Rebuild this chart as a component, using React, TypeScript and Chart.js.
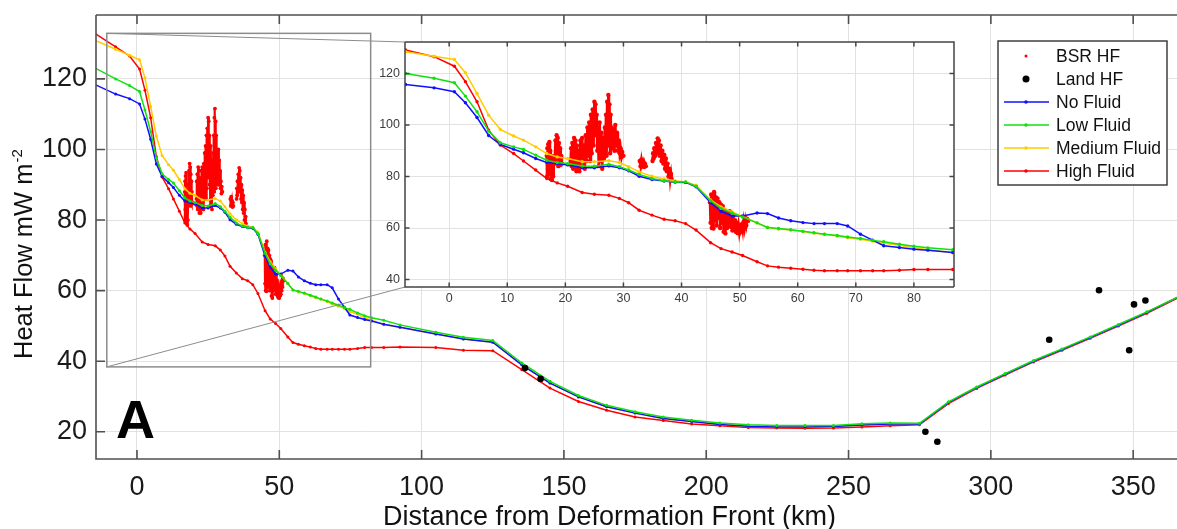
import React, { useEffect, useRef } from "react";
import { Chart, registerables } from "chart.js";

Chart.register(...registerables);

const FONT = "'Liberation Sans', Arial, Helvetica, sans-serif";

// ---- Model curves (distance in km, heat flow in mW m-2) ----
const modelDist = [
  -15, -7.5, -2.6, 0.9, 2.8, 4.8, 6.8, 8.8, 11.1, 12.8, 14.9, 16.8, 18.6, 20.4, 22.9, 25.0, 27.5, 29.3, 30.9,
  32.7, 34.9, 37.0, 38.9, 40.7, 42.5, 45.0, 46.8, 48.7, 50.5, 53.0, 54.8, 56.7, 58.8, 60.9, 62.8, 64.6, 66.8,
  68.6, 70.8, 72.9, 74.8, 77.5, 80.0, 82.4, 86.7, 92.4, 105, 114.7, 125, 135.2, 145.1, 155.1, 165, 175, 184.9,
  194.9, 204.8, 214.8, 224.8, 234.7, 244.7, 254.7, 264.6, 274.9, 285.1, 295, 305, 315, 325, 334.9, 344.8,
  354.8, 366,
];

const noFluidHF = [
  118.5, 115.7, 114.4, 112.9, 108.6, 102.9, 95.9, 92.4, 90.6, 89.2, 87.0, 85.4, 85.0, 84.5, 83.4, 83.4, 84.1,
  83.4, 82.2, 80.1, 78.8, 78.2, 77.8, 77.7, 76.0, 69.8, 66.5, 64.7, 64.7, 65.8, 65.6, 63.9, 62.8, 62.1, 61.7,
  61.7, 61.7, 60.8, 57.6, 55.3, 53.1, 52.4, 51.8, 51.4, 50.5, 49.6, 47.7, 46.3, 45.4, 39.0, 33.8, 29.9, 27.1,
  25.3, 23.8, 22.9, 22.1, 21.6, 21.4, 21.4, 21.5, 21.9, 22.2, 22.2, 28.3, 32.5, 36.3, 40.0, 43.3, 46.7, 50.2,
  53.8, 58.3,
];

const lowFluidHF = [
  123.2, 120.0, 118.1, 116.4, 111.2, 105.1, 97.6, 93.1, 91.5, 90.5, 88.3, 86.3, 85.4, 85.0, 84.1, 84.0, 84.7,
  83.8, 82.5, 80.8, 79.2, 78.3, 77.9, 77.9, 76.2, 70.6, 67.6, 65.8, 64.3, 62.0, 60.2, 59.8, 59.3, 58.7, 58.2,
  57.6, 57.1, 56.5, 55.9, 55.2, 54.7, 53.7, 52.9, 52.3, 51.6, 50.3, 48.2, 46.8, 45.9, 39.5, 34.3, 30.3, 27.5,
  25.7, 24.2, 23.3, 22.5, 22.0, 21.8, 21.8, 21.8, 22.3, 22.5, 22.4, 28.5, 32.7, 36.5, 40.2, 43.5, 46.9, 50.4,
  54.0, 58.3,
];

const mediumFluidHF = [
  131.0, 128.4, 126.7, 125.4, 120.3, 112.2, 103.8, 98.3, 95.7, 94.1, 91.5, 88.9, 87.6, 87.0, 85.7, 85.7, 86.1,
  85.4, 83.8, 81.8, 80.1, 79.0, 78.3, 77.9, 76.6, 70.9, 68.2, 66.2, 64.5, 62.0, 60.2, 59.6, 59.2, 58.6, 58.0,
  57.6, 56.9, 56.2, 55.6, 54.9, 54.1, 53.3, 52.3, 51.6, 50.4, 49.6, 47.7, 46.3, 45.4, 39.0, 33.8, 29.9, 27.1,
  25.3, 23.8, 22.9, 22.1, 21.6, 21.4, 21.4, 21.5, 21.9, 22.2, 22.2, 28.3, 32.5, 36.3, 40.0, 43.3, 46.7, 50.2,
  53.8, 58.3,
];

const highFluidHF = [
  133.0, 129.1, 126.5, 122.8, 116.8, 109.0, 98.0, 92.2, 88.9, 86.0, 82.5, 79.2, 77.5, 76.2, 73.8, 73.1, 72.7,
  71.5, 69.8, 66.9, 65.0, 63.4, 62.8, 61.7, 59.2, 54.3, 52.0, 50.7, 49.3, 46.9, 45.3, 44.8, 44.4, 44.0, 43.6,
  43.4, 43.4, 43.4, 43.4, 43.4, 43.4, 43.6, 43.9, 43.9, 43.9, 44.0, 43.9, 43.1, 43.0, 37.6, 32.4, 28.6, 26.1,
  24.2, 23.2, 22.2, 21.7, 21.2, 21.1, 21.0, 21.1, 21.4, 21.7, 22.0, 28.0, 32.3, 36.1, 39.8, 43.1, 46.5, 50.0,
  53.6, 58.0,
];

// ---- BSR-derived heat flow (null = gap between clusters) ----
const bsrDist = [
  16.8, 16.85, 16.9, 17.0, 17.05, 17.15, 17.25, 17.35, 17.4, 17.5, 17.6, 17.7, 17.8, 17.9, 18.0,
  18.2, 18.3, 18.4, 18.5, 18.6, 18.7, 18.8, 18.9, 19.0, 19.1, 19.2, 19.3, 19.4,
  20.1,
  20.9, 21.0, 21.1, 21.2, 21.35, 21.5, 21.6, 21.75, 21.9, 22.0, 22.15, 22.3, 22.4,
  22.5, 22.6, 22.75, 22.9, 23.05, 23.2, 23.35, 23.5, 23.65, 23.8, 23.95, 24.1, 24.25, 24.4, 24.55, 24.7, 24.85,
  25.0, 25.1, 25.2, 25.3, 25.4, 25.5,
  25.6, 25.75, 25.9, 26.05, 26.2, 26.35, 26.5, 26.65, 26.8,
  26.9, 27.0, 27.1, 27.2, 27.3, 27.4, 27.5, 27.6, 27.7, 27.8, 27.9,
  28.0, 28.15, 28.3, 28.45, 28.6, 28.75, 28.9, 29.05, 29.2, 29.35, 29.5, 29.65, 29.8, 30.0,
  31.5,
  32.8, 32.95, 33.1, 33.25, 33.4, 33.55, 33.7, 33.85,
  34.4,
  35.0, 35.1, 35.2, 35.3, 35.45, 35.6, 35.75, 35.9, 36.0, 36.1, 36.25, 36.4, 36.55, 36.7, 36.85, 37.0, 37.15,
  37.3, 37.45, 37.6, 37.75, 37.9, 38.05, 38.2, 38.3,
  41.0,
  44.9, 45.0, 45.1, 45.2, 45.35, 45.5, 45.6, 45.75, 45.9, 46.05, 46.2, 46.35, 46.5, 46.65, 46.8, 46.95, 47.1,
  47.25, 47.4, 47.55, 47.7, 47.85, 48.0, 48.15, 48.3, 48.45, 48.6, 48.75, 48.9, 49.05, 49.2, 49.35, 49.5,
  49.65, 49.8, 49.95, 50.1, 50.25, 50.4, 50.55, 50.7, 50.85, 51.0, 51.15, 51.3, 51.5,
];

const bsrHF = [
  88, 80, 91, 83, 92.5, 81, 93.4, 84, 90, 79, 88, 78.6, 86, 80, 85,
  88, 94, 85, 96, 86, 95, 84, 93, 85, 91, 84.5, 88, 85,
  null,
  86, 91, 84, 93, 83, 95, 85, 94, 82, 92, 83, 90, 82,
  87, 94, 84, 95, 85, 92, 83, 96, 86, 99, 88, 101, 86, 104, 89, 106, 92,
  109, 103, 108, 96, 104, 90,
  98, 84, 101, 86, 97, 83, 95, 87, 99,
  91, 104, 88, 109, 95, 111.6, 92, 108, 89, 104, 93,
  99, 91, 98, 90, 100, 92, 97, 90, 94, 89, 91, 87.5, 89.5, 88,
  null,
  86, 84, 86.6, 84.5, 85.5, 83.7, 85, 84,
  null,
  86, 89, 87, 91, 88, 93, 89, 94.8, 90, 94, 88, 92, 86, 90, 85, 88.5, 83,
  87, 82, 85, 80, 83, 78.5, 81, 79,
  null,
  70, 62, 73, 60, 72, 59.8, 74, 63, 72, 61, 71.5, 64, 70, 60, 69, 62, 68.5,
  58.5, 67, 57.9, 66, 60, 65.5, 61, 66.5, 60.5, 64, 59, 64.5, 60, 63, 58.5, 62,
  58, 61, 57.9, 60, 58.5, 61.5, 59, 62.5, 60, 63, 61, 63.5, 62.8,
];

// ---- Onshore (land) heat flow measurements ----
const landDist = [136.3, 141.8, 277, 281.2, 320.5, 338, 348.6, 350.3, 354.3];
const landHF = [38.1, 35.0, 20.0, 17.2, 46.1, 60.1, 43.1, 56.1, 57.2];

// ---- Axes ----
const mainXTicks = [0, 50, 100, 150, 200, 250, 300, 350];
const mainYTicks = [20, 40, 60, 80, 100, 120];
const insetXTicks = [0, 10, 20, 30, 40, 50, 60, 70, 80];
const insetYTicks = [40, 60, 80, 100, 120];
const mainXRange = [-14.4, 365.4];
const mainYRange = [12.3, 138.1];
const insetXRange = [-7.6, 86.9];
const insetYRange = [37.1, 132.2];

// zoom box drawn in the main axes (data units)
const zoomBoxDist = [-10.6, 82.1];
const zoomBoxHF = [38.4, 132.9];

const legendLabels = ["BSR HF", "Land HF", "No Fluid", "Low Fluid", "Medium Fluid", "High Fluid"];

const BLUE = "#1010ff";
const GREEN = "#10e010";
const YELLOW = "#ffcc00";
const RED = "#ff0000";
const GRID = "#e2e2e2";

// inset geometry (page px)
const INSET = { left: 365, top: 36, width: 595, height: 280, axisW: 40, axisH: 29, padTop: 6, padRight: 6 };

const pts = (xs: number[], ys: (number | null)[]) => xs.map((x, i) => ({ x, y: ys[i] }));

function makeDatasets(inset: boolean) {
  const lw = 1.5;
  const pr = inset ? 1.7 : 1.5;
  const model = (label: string, ys: number[], color: string, order: number) => ({
    label,
    data: pts(modelDist, ys),
    borderColor: color,
    backgroundColor: color,
    borderWidth: lw,
    pointRadius: pr,
    pointHoverRadius: 0,
    pointBorderWidth: 0,
    pointBackgroundColor: color,
    tension: 0,
    order,
  });
  return [
    {
      label: "Land HF",
      data: pts(landDist, landHF),
      showLine: false,
      pointRadius: 3.3,
      pointHoverRadius: 0,
      pointBorderWidth: 0,
      pointBackgroundColor: "#000",
      backgroundColor: "#000",
      borderColor: "#000",
      order: 0,
    },
    model("Low Fluid", lowFluidHF, GREEN, 1),
    model("No Fluid", noFluidHF, BLUE, 2),
    model("Medium Fluid", mediumFluidHF, YELLOW, 3),
    model("High Fluid", highFluidHF, RED, 4),
    {
      label: "BSR HF",
      data: pts(bsrDist, bsrHF),
      borderColor: RED,
      backgroundColor: RED,
      borderWidth: inset ? 2.6 : 2.2,
      pointRadius: inset ? 2.2 : 1.9,
      pointHoverRadius: 0,
      pointBorderWidth: 0,
      pointBackgroundColor: RED,
      spanGaps: false,
      tension: 0,
      order: 5,
    },
  ];
}

function drawBoxTicks(chart: any, len: number, color: string, lw: number, xt: number[], yt: number[], rightSide: boolean) {
  const { ctx, chartArea: a, scales } = chart;
  ctx.save();
  ctx.strokeStyle = color;
  ctx.lineWidth = lw;
  ctx.beginPath();
  ctx.moveTo(a.left, a.top);
  ctx.lineTo(a.left, a.bottom);
  ctx.lineTo(a.right, a.bottom);
  ctx.moveTo(a.left, a.top);
  ctx.lineTo(a.right, a.top);
  if (rightSide) {
    ctx.lineTo(a.right, a.bottom);
  }
  ctx.stroke();
  ctx.beginPath();
  xt.forEach((v) => {
    const px = scales.x.getPixelForValue(v);
    ctx.moveTo(px, a.bottom);
    ctx.lineTo(px, a.bottom - len);
    ctx.moveTo(px, a.top);
    ctx.lineTo(px, a.top + len);
  });
  yt.forEach((v) => {
    const py = scales.y.getPixelForValue(v);
    ctx.moveTo(a.left, py);
    ctx.lineTo(a.left + len, py);
    if (rightSide) {
      ctx.moveTo(a.right, py);
      ctx.lineTo(a.right - len, py);
    }
  });
  ctx.stroke();
  ctx.restore();
}

const mainPlugin = {
  id: "mainDecor",
  afterDatasetsDraw(chart: any) {
    const { ctx, scales } = chart;
    const l = scales.x.getPixelForValue(zoomBoxDist[0]);
    const r = scales.x.getPixelForValue(zoomBoxDist[1]);
    const t = scales.y.getPixelForValue(zoomBoxHF[1]);
    const b = scales.y.getPixelForValue(zoomBoxHF[0]);
    ctx.save();
    ctx.strokeStyle = "#8c8c8c";
    ctx.lineWidth = 1.5;
    ctx.strokeRect(l, t, r - l, b - t);
    ctx.lineWidth = 1;
    ctx.strokeStyle = "#8c8c8c";
    const il = INSET.left + INSET.axisW;
    const it = INSET.top + INSET.padTop;
    const ib = INSET.top + INSET.height - INSET.axisH;
    ctx.beginPath();
    ctx.moveTo(l, t);
    ctx.lineTo(il, it);
    ctx.moveTo(l, b);
    ctx.lineTo(il, ib);
    ctx.stroke();
    ctx.restore();
  },
  afterDraw(chart: any) {
    const { ctx } = chart;
    drawBoxTicks(chart, 9, "#505050", 1.6, mainXTicks, mainYTicks, false);
    ctx.save();
    ctx.fillStyle = "#111";
    // x title
    ctx.font = `27px ${FONT}`;
    ctx.textAlign = "center";
    ctx.textBaseline = "alphabetic";
    ctx.fillText("Distance from Deformation Front (km)", 609.5, 525);
    // y title
    ctx.save();
    ctx.translate(31.5, 359);
    ctx.rotate(-Math.PI / 2);
    ctx.textAlign = "left";
    ctx.font = `25.5px ${FONT}`;
    const main = "Heat Flow mW m";
    ctx.fillText(main, 0, 0);
    const w = ctx.measureText(main).width;
    ctx.font = `15px ${FONT}`;
    ctx.fillText("-2", w + 1, -10);
    ctx.restore();
    // panel letter
    ctx.font = `bold 54px ${FONT}`;
    ctx.textAlign = "left";
    ctx.fillStyle = "#000";
    ctx.fillText("A", 116, 438);
    // legend
    const lx = 998, ly = 41, lw = 169, lh = 144;
    ctx.fillStyle = "#fff";
    ctx.fillRect(lx, ly, lw, lh);
    ctx.strokeStyle = "#333";
    ctx.lineWidth = 1.4;
    ctx.strokeRect(lx, ly, lw, lh);
    const colors = [RED, "#000", BLUE, GREEN, YELLOW, RED];
    legendLabels.forEach((lab, i) => {
      const y = 56 + i * 23;
      const c = colors[i];
      ctx.fillStyle = c;
      ctx.strokeStyle = c;
      if (i === 0) {
        ctx.beginPath();
        ctx.arc(1026, y, 1.5, 0, Math.PI * 2);
        ctx.fill();
      } else if (i === 1) {
        ctx.beginPath();
        ctx.arc(1026, y, 3.5, 0, Math.PI * 2);
        ctx.fill();
      } else {
        ctx.lineWidth = 1.6;
        ctx.beginPath();
        ctx.moveTo(1004, y);
        ctx.lineTo(1049, y);
        ctx.stroke();
        ctx.beginPath();
        ctx.arc(1026, y, 1.8, 0, Math.PI * 2);
        ctx.fill();
      }
      ctx.fillStyle = "#111";
      ctx.font = `17.5px ${FONT}`;
      ctx.textAlign = "left";
      ctx.textBaseline = "middle";
      ctx.fillText(lab, 1056, y + 1);
    });
    ctx.restore();
  },
};

const insetPlugin = {
  id: "insetDecor",
  beforeDraw(chart: any) {
    const { ctx, chartArea: a } = chart;
    ctx.save();
    ctx.fillStyle = "#fff";
    ctx.fillRect(a.left, a.top, a.right - a.left, a.bottom - a.top);
    ctx.restore();
  },
  afterDraw(chart: any) {
    drawBoxTicks(chart, 4.5, "#444", 1.5, insetXTicks, insetYTicks, true);
  },
};

function axisOptions(
  range: number[],
  ticks: number[],
  size: number,
  pad: number,
  isX: boolean,
  thickness: number
) {
  return {
    type: "linear" as const,
    min: range[0],
    max: range[1],
    afterBuildTicks: (s: any) => {
      s.ticks = ticks.map((v) => ({ value: v }));
    },
    afterFit: (s: any) => {
      if (isX) s.height = thickness;
      else s.width = thickness;
      s.paddingLeft = 0;
      s.paddingRight = 0;
      s.paddingTop = 0;
      s.paddingBottom = 0;
    },
    grid: { color: GRID, lineWidth: 1, drawTicks: false },
    border: { display: false },
    ticks: {
      font: { family: FONT, size },
      color: size > 20 ? "#1a1a1a" : "#3c3c3c",
      padding: pad,
      maxRotation: 0,
      autoSkip: false,
    },
  };
}

export default function App() {
  const mainRef = useRef<HTMLCanvasElement>(null);
  const insetRef = useRef<HTMLCanvasElement>(null);

  useEffect(() => {
    Chart.defaults.font.family = FONT;
    const main = new Chart(mainRef.current as HTMLCanvasElement, {
      type: "line",
      data: { datasets: makeDatasets(false) as any },
      options: {
        responsive: false,
        animation: false,
        devicePixelRatio: 1,
        layout: { autoPadding: false, padding: { top: 15, right: 0, left: 0, bottom: 0 } },
        plugins: { legend: { display: false }, tooltip: { enabled: false } },
        scales: {
          x: axisOptions(mainXRange, mainXTicks, 27, 12, true, 70),
          y: axisOptions(mainYRange, mainYTicks, 27, 9, false, 96),
        },
      } as any,
      plugins: [mainPlugin],
    });
    const inset = new Chart(insetRef.current as HTMLCanvasElement, {
      type: "line",
      data: { datasets: makeDatasets(true) as any },
      options: {
        responsive: false,
        animation: false,
        devicePixelRatio: 1,
        layout: { autoPadding: false, padding: { top: INSET.padTop, right: INSET.padRight, left: 0, bottom: 0 } },
        plugins: { legend: { display: false }, tooltip: { enabled: false } },
        scales: {
          x: axisOptions(insetXRange, insetXTicks, 12.5, 4, true, INSET.axisH),
          y: axisOptions(insetYRange, insetYTicks, 12.5, 5, false, INSET.axisW),
        },
      } as any,
      plugins: [insetPlugin],
    });
    return () => {
      main.destroy();
      inset.destroy();
    };
  }, []);

  return (
    <div style={{ position: "absolute", left: 0, top: 0, width: 1177, height: 529, background: "#fff", overflow: "hidden" }}>
      <canvas ref={mainRef} width={1177} height={529} style={{ position: "absolute", left: 0, top: 0 }} />
      <canvas
        ref={insetRef}
        width={INSET.width}
        height={INSET.height}
        style={{ position: "absolute", left: INSET.left, top: INSET.top }}
      />
    </div>
  );
}
